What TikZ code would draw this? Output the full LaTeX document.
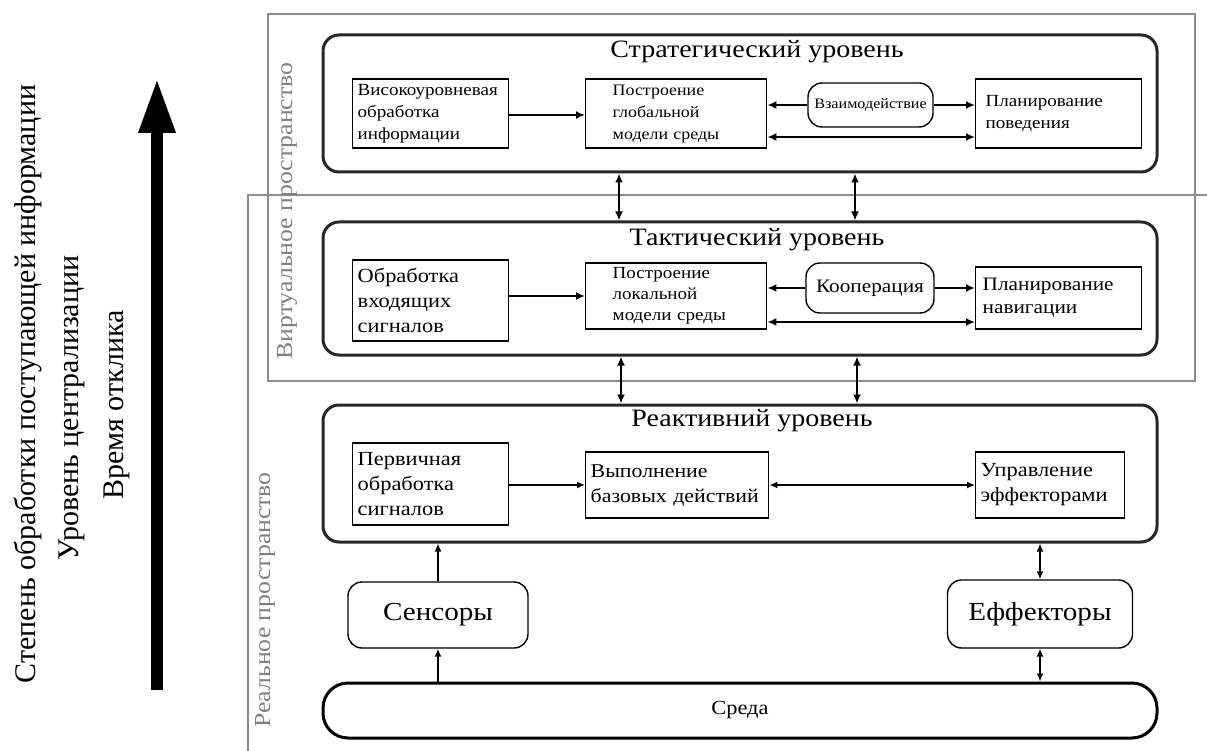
\documentclass[tikz,border=0pt]{standalone}
\usepackage{fontspec}
\setmainfont{Liberation Serif}[FakeStretch=1.12]
\newfontfamily\plainserif{Liberation Serif}
\usetikzlibrary{arrows.meta,calc}
\newcommand{\fsz}[2]{\fontsize{#1}{#2}\selectfont}
\begin{document}
\begin{tikzpicture}[x=1pt,y=-1pt,
  lvl/.style={draw=black!85,line width=3pt,rounded corners=16pt,minimum width=834pt,inner sep=0pt},
  inbox/.style={draw,line width=1.4pt,inner ysep=2pt,align=left,anchor=west},
  rbox/.style={draw,line width=1.4pt,rounded corners=14pt,inner sep=2pt},
  ttl/.style={font=\fsz{25}{29}},
  ar/.style={line width=2.6pt,-{Latex[length=9pt,width=8pt]}},
  dar/.style={line width=2.6pt,{Latex[length=9pt,width=8pt]}-{Latex[length=9pt,width=8pt]}},
  thar/.style={line width=1.8pt,-{Latex[length=8pt,width=7pt]}},
  thdar/.style={line width=1.8pt,{Latex[length=8pt,width=7pt]}-{Latex[length=8pt,width=7pt]}},
  spc/.style={draw=black!45,line width=2pt},
  spl/.style={text=black!50,font=\fsz{23}{25},rotate=90},
  side/.style={font=\plainserif\fsz{30}{32},rotate=90},
]
\useasboundingbox (0,0) rectangle (1207,751);

% spaces
\draw[spc] (268,14) rectangle (1195,381);
\coordinate (rtr) at (1207,195);
\coordinate (rtl) at (248,195);
\coordinate (rbl) at (248,751);
\draw[spc] (rtr) -- (rtl) -- (rbl);
\node[spl] (virt) at (287,211) {Виртуальное пространство};
\node[spl] (real) at (265,600) {Реальное пространство};

% left
\coordinate (ab) at (157,690);
\coordinate (at) at (157,78);
\draw[line width=12pt,-{Triangle[length=55pt,width=34pt]}] (ab) -- (at);
\node[side] (l1) at (28,384) {Степень обработки поступающей информации};
\node[side] (l2) at (72,408) {Уровень централизации};
\node[side] (l3) at (117,405) {Время отклика};

% levels
\node[lvl,minimum height=137pt] (strat) at (740,103.5) {};
\node[lvl,minimum height=133pt] (tact) at (740,288.5) {};
\node[lvl,minimum height=137pt] (react) at (740,473.5) {};
\node[ttl] (st) at (757,52) {Стратегический уровень};
\node[ttl] (tt) at (757,240) {Тактический уровень};
\node[ttl] (rt) at (752,421) {Реактивний уровень};

% strategic
\node[inbox,font=\fsz{17}{22},inner xsep=5pt,text width=146pt,minimum height=69pt] (sb1) at (352,113.5) {Високоуровневая\\обработка\\информации};
\node[inbox,font=\fsz{16}{22},inner xsep=27pt,text width=127pt,minimum height=69pt] (sb2) at (585,113.5) {Построение\\глобальной\\модели среды};
\node[rbox,font=\fsz{14.4}{16},minimum width=125pt,minimum height=44pt] (sb3) at (870.5,105) {Взаимодействие};
\node[inbox,font=\fsz{17}{22},inner xsep=10pt,text width=146pt,minimum height=69pt] (sb4) at (975,113.5) {Планирование\\поведения};
\coordinate (sy1) at (0,115);
\coordinate (sy2) at (0,137);
\draw[ar] (sb1.east |- sy1) -- (sb2.west |- sy1);
\draw[ar] (sb3.west) -- (sb2.east |- sb3.west);
\draw[ar] (sb3.east) -- (sb4.west |- sb3.east);
\draw[dar] (sb2.east |- sy2) -- (sb4.west |- sy2);

% tactical
\node[inbox,font=\fsz{20}{25},inner xsep=5pt,text width=146pt,minimum height=81pt] (tb1) at (352,300.5) {Обработка\\входящих\\сигналов};
\node[inbox,font=\fsz{17}{21},inner xsep=27pt,text width=127pt,minimum height=66pt] (tb2) at (585,296) {Построение\\локальной\\модели среды};
\node[rbox,font=\fsz{19}{21},minimum width=128pt,minimum height=50pt] (tb3) at (870,288) {Кооперация};
\node[inbox,font=\fsz{19}{23},inner xsep=7pt,text width=152pt,minimum height=62pt] (tb4) at (975,298) {Планирование\\навигации};
\coordinate (ty1) at (0,296);
\coordinate (ty2) at (0,322);
\draw[ar] (tb1.east |- ty1) -- (tb2.west |- ty1);
\draw[ar] (tb3.west) -- (tb2.east |- tb3.west);
\draw[ar] (tb3.east) -- (tb4.west |- tb3.east);
\draw[dar] (tb2.east |- ty2) -- (tb4.west |- ty2);

% reactive
\node[inbox,font=\fsz{20}{25},inner xsep=5pt,text width=146pt,minimum height=82pt] (rb1) at (352,484) {Первичная\\обработка\\сигналов};
\node[inbox,font=\fsz{19.5}{25},inner xsep=5pt,text width=173pt,minimum height=66pt] (rb2) at (585,485) {Выполнение\\базовых действий};
\node[inbox,font=\fsz{20}{25},inner xsep=5pt,text width=139pt,minimum height=66pt] (rb3) at (975,485) {Управление\\эффекторами};
\draw[thar] (rb1.east |- rb2.west) -- (rb2.west);
\draw[thdar] (rb2.east) -- (rb3.west);

% inter-level
\coordinate (c1) at (619,0);
\coordinate (c2) at (855,0);
\coordinate (c3) at (621,0);
\coordinate (c4) at (857,0);
\draw[dar] (strat.south -| c1) -- (tact.north -| c1);
\draw[dar] (strat.south -| c2) -- (tact.north -| c2);
\draw[dar] (tact.south -| c3) -- (react.north -| c3);
\draw[dar] (tact.south -| c4) -- (react.north -| c4);

% bottom
\node[rbox,font=\fsz{26}{30},minimum width=180pt,minimum height=66pt] (sens) at (438,615) {Сенсоры};
\node[rbox,font=\fsz{26}{30},minimum width=185pt,minimum height=68pt] (eff) at (1040,614) {Еффекторы};
\node[draw,line width=3pt,rounded corners=25pt,minimum width=834pt,minimum height=55pt,font=\fsz{20}{22}] (env) at (740,710.5) {Среда};
\draw[thar] (env.north -| sens) -- (sens.south);
\draw[thar] (sens.north) -- (react.south -| sens);
\draw[thdar] (eff.north) -- (react.south -| eff);
\draw[thdar] (eff.south) -- (env.north -| eff);
\end{tikzpicture}
\end{document}
